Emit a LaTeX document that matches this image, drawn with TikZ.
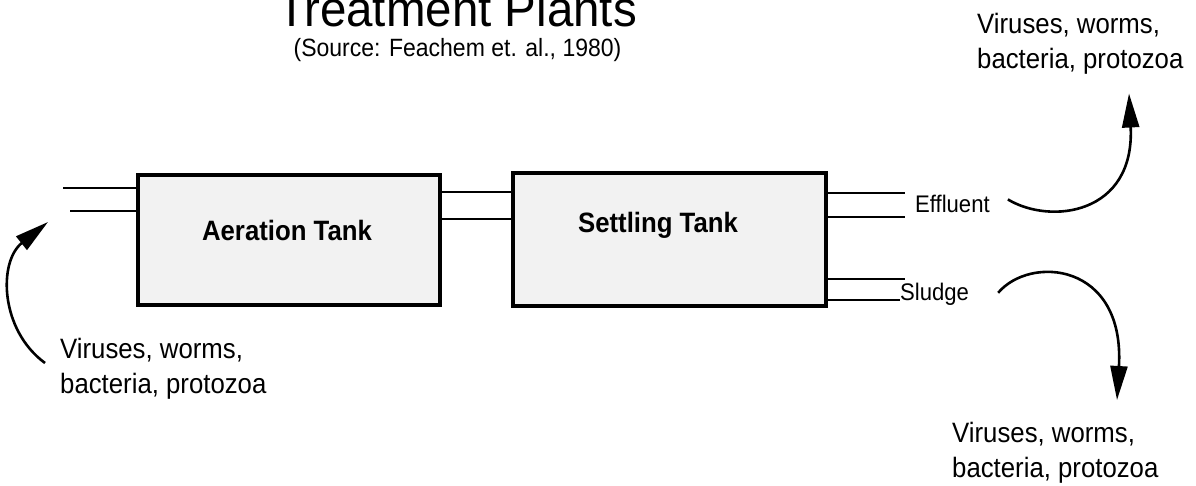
\documentclass[tikz,border=0pt]{standalone}
\usepackage{fontspec}
\setmainfont{Liberation Sans}[FakeStretch=0.92]
\newfontfamily\titlefont{Liberation Sans}[FakeStretch=0.95]
\usetikzlibrary{arrows.meta}

\begin{document}
\begin{tikzpicture}[x=1pt,y=1pt,
  tank/.style={draw,line width=4pt,fill=black!5,inner sep=0pt},
  tanklabel/.style={font=\fontsize{28}{34}\selectfont\bfseries,inner sep=0pt,anchor=base},
  pipe/.style={line width=1.8pt},
  germs/.style={align=left,inner sep=0pt,anchor=north west,font=\fontsize{28}{35}\selectfont},
  outlabel/.style={font=\fontsize{24}{28}\selectfont,inner sep=0pt,anchor=base west},
  flow/.style={line width=2.6pt,-{Triangle[length=34pt,width=17pt]}}]
  \path[use as bounding box,fill=white] (0,0) rectangle (1196,485);
  \node[font=\titlefont\fontsize{50}{60}\selectfont,inner sep=0pt,anchor=base] (title) at (457,458) {Treatment Plants};
  \node[font=\fontsize{25}{30}\selectfont,inner sep=0pt,anchor=base] (source) at (457.5,428) {(Source: Feachem et. al., 1980)};
  \node[tank,minimum width=302pt,minimum height=130pt] (aer) at (288.5,245) {};
  \node[tank,minimum width=312.5pt,minimum height=132.5pt] (set) at (669.25,245.75) {};
  \node[tanklabel] (aerlabel) at (287,244) {Aeration Tank};
  \node[tanklabel] (setlabel) at (658,252) {Settling Tank};
  \coordinate (in1) at (63,297);
  \coordinate (in2) at (70,274);
  \draw[pipe] (in1) -- (in1 -| aer.west);
  \draw[pipe] (in2) -- (in2 -| aer.west);
  \draw[pipe] (aer.east |- 0,293) -- (set.west |- 0,293);
  \draw[pipe] (aer.east |- 0,266) -- (set.west |- 0,266);
  \node[outlabel,inner xsep=10pt] (eff) at (905,272) {Effluent};
  \node[outlabel] (sludge) at (900,185) {Sludge};
  \draw[pipe] (set.east |- 0,292) -- (eff.base west |- 0,292);
  \draw[pipe] (set.east |- 0,268) -- (eff.base west |- 0,268);
  \coordinate (sludgetop) at (905,206);
  \draw[pipe] (set.east |- sludgetop) -- (sludgetop);
  \draw[pipe] (set.east |- sludge.base west) -- (sludge.base west);
  \node[germs] (germsin) at (60,147) {Viruses, worms,\\bacteria, protozoa};
  \node[germs] (germseff) at (977,472) {Viruses, worms,\\bacteria, protozoa};
  \node[germs] (germssludge) at (952,63) {Viruses, worms,\\bacteria, protozoa};
  \draw[flow] ([shift={(-15pt,-25pt)}]germsin.north west) .. controls (0,155) and (-2,223) .. ([shift={(-22pt,-11pt)}]in2);
  \draw[flow] ([shift={(8pt,5pt)}]eff.east) .. controls (1050,260) and (1135,270) .. ([shift={(152pt,-19pt)}]germseff.south west);
  \draw[flow] ([shift={(29pt,1pt)}]sludge.east) .. controls (1030,230) and (1125,223) .. ([shift={(165pt,22pt)}]germssludge.north west);
\end{tikzpicture}
\end{document}
